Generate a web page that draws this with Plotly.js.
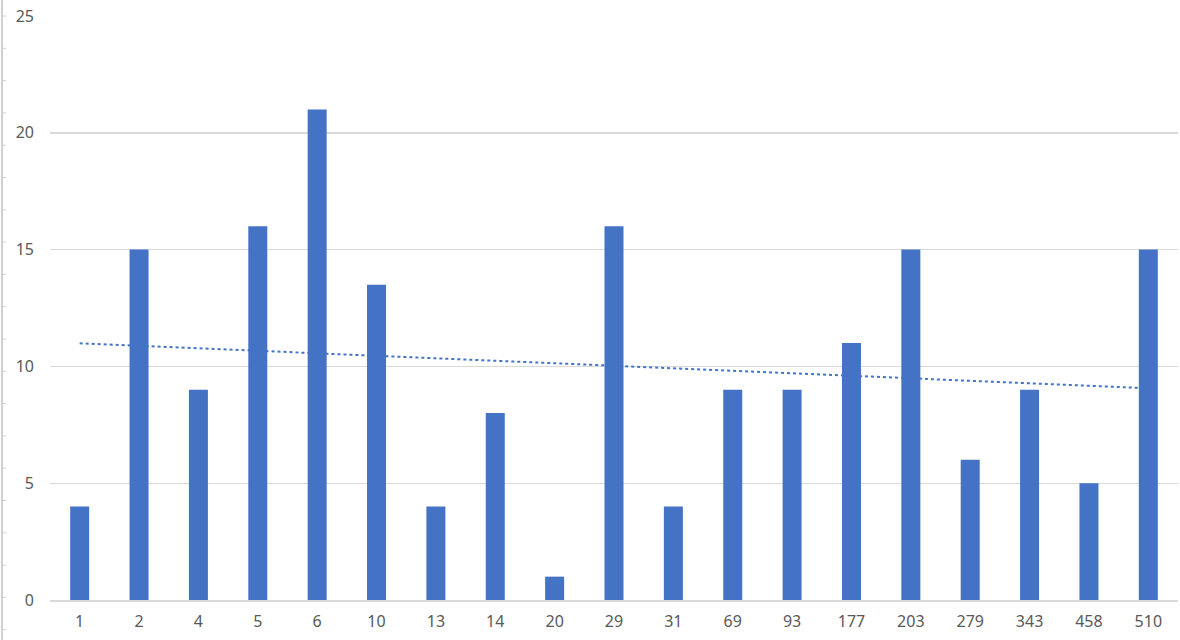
<!DOCTYPE html>
<html>
<head>
<meta charset="utf-8">
<script src="https://cdn.plot.ly/plotly-3.0.1.min.js"></script>
<style>
html,body{margin:0;padding:0;background:#fff;}
#chart{width:1180px;height:640px;}
</style>
</head>
<body>
<div id="chart"></div>
<script>
var categories = ["1","2","4","5","6","10","13","14","20","29","31","69","93","177","203","279","343","458","510"];
var values = [4,15,9,16,21,13.5,4,8,1,16,4,9,9,11,15,6,9,5,15];
var yTicks = [0,5,10,15,20,25];

// linear trendline (least squares on category index)
var n = values.length, sx=0, sy=0, sxy=0, sxx=0;
for (var i=0;i<n;i++){ var xi=i+1; sx+=xi; sy+=values[i]; sxy+=xi*values[i]; sxx+=xi*xi; }
var slope = (n*sxy - sx*sy)/(n*sxx - sx*sx);
var intercept = (sy - slope*sx)/n;
var trend = values.map(function(v,i){ return intercept + slope*(i+1); });

var barTrace = {
  type:'bar', x:categories, y:values,
  marker:{color:'#4472C4'}, hoverinfo:'x+y'
};
var trendTrace = {
  type:'scatter', mode:'lines', x:categories, y:trend,
  line:{color:'#4472C4', width:2, dash:'dot'}, hoverinfo:'skip'
};

// decorative left border with small marks (sheet edge)
var plotH = 584, plotW = 1128, plotTop = 16, plotLeft = 50;
function px2x(p){ return (p - plotLeft)/plotW; }
function py2y(p){ return (plotTop + plotH - p)/plotH; }
var shapes = [{type:'line', xref:'paper', yref:'paper', x0:px2x(2), x1:px2x(2), y0:py2y(640), y1:py2y(0), line:{color:'#d0d0d0', width:2}}];
for (var k=0;k<20;k++){
  var yp = 16 + k*32.3;
  if (yp > 640) break;
  shapes.push({type:'line', xref:'paper', yref:'paper', x0:px2x(2), x1:px2x(6), y0:py2y(yp), y1:py2y(yp), line:{color:'#d0d0d0', width:1}});
}

var layout = {
  width:1180, height:640,
  margin:{l:50, r:2, t:16, b:40},
  paper_bgcolor:'#fff', plot_bgcolor:'#fff',
  showlegend:false,
  bargap:0.68,
  font:{family:'Noto Sans, Liberation Sans, Arial, sans-serif', size:16, color:'#595959'},
  xaxis:{type:'category', showgrid:false, zeroline:false, showline:true, linecolor:'#d9d9d9', linewidth:2,
         ticks:'', ticklabelstandoff:6, tickfont:{family:'Noto Sans', size:16, color:'#595959'}},
  yaxis:{range:[0,25], tickvals:yTicks, ticktext:yTicks.map(String), showgrid:true, gridcolor:'#d9d9d9', gridwidth:1.4,
         zeroline:false, showline:false, ticks:'', ticklabelstandoff:15, tickfont:{family:'Noto Sans', size:16, color:'#595959'}},
  shapes:shapes
};
Plotly.newPlot('chart',[barTrace,trendTrace],layout,{displayModeBar:false, staticPlot:true});
</script>
</body>
</html>
